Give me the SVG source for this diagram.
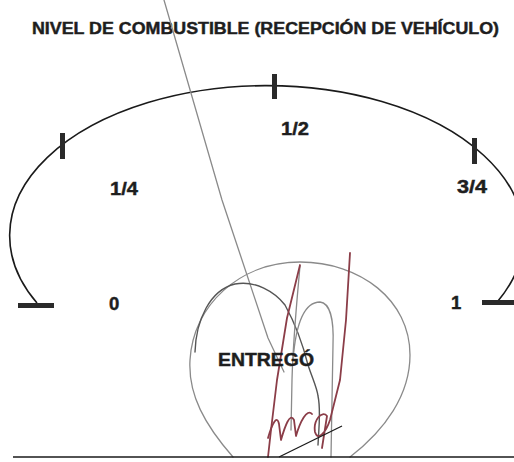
<svg xmlns="http://www.w3.org/2000/svg" width="514" height="462" viewBox="0 0 514 462">
<style>
.t{font-family:"Liberation Sans",Arial,sans-serif;font-weight:bold;fill:#1e1e1e;stroke:#1e1e1e;stroke-width:0.45}
.gauge{fill:none;stroke:#1a1a1a;stroke-width:1.6}
.mark{fill:#2a2a2a}
.pencil{fill:none;stroke:#8a8a8a;stroke-width:1.3;stroke-linecap:round;stroke-linejoin:round}
.dark{fill:none;stroke:#555555;stroke-width:1.4;stroke-linecap:round;stroke-linejoin:round}
.ink{fill:none;stroke:#8b3d48;stroke-width:1.8;stroke-linecap:round;stroke-linejoin:round}
</style>
<rect width="514" height="462" fill="#ffffff"/>
<text id="title" class="t" x="32" y="34" font-size="16" textLength="467" lengthAdjust="spacingAndGlyphs">NIVEL DE COMBUSTIBLE (RECEPCIÓN DE VEHÍCULO)</text>
<g id="gauge">
<path class="gauge" d="M37 303 A257 150 0 1 1 498 301"/>
<rect class="mark" x="18" y="303" width="36" height="5"/>
<rect class="mark" x="482" y="300" width="32" height="5"/>
<rect class="mark" x="60" y="133" width="5" height="26"/>
<rect class="mark" x="272" y="74" width="5" height="25"/>
<rect class="mark" x="472" y="138" width="5" height="26"/>
</g>
<g id="labels">
<text class="t" x="110" y="195" font-size="18.5" textLength="28" lengthAdjust="spacingAndGlyphs">1/4</text>
<text class="t" x="281" y="135" font-size="18.5" textLength="28" lengthAdjust="spacingAndGlyphs">1/2</text>
<text class="t" x="457" y="193" font-size="18.5" textLength="30" lengthAdjust="spacingAndGlyphs">3/4</text>
<text class="t" x="109" y="310" font-size="18.5">0</text>
<text class="t" x="451" y="309" font-size="18.5">1</text>
</g>
<g id="signature">
<path class="pencil" d="M164 0 L222 200 L268 338 L284 372"/>
<path class="pencil" d="M233 457 C205 425 188 395 190 360 C193 305 240 262 300 262 C360 262 410 300 410 355 C410 395 385 430 350 457"/>
<path class="dark" d="M195 352 C196 320 210 290 235 284 C255 280 275 292 285 305 C296 325 303 345 308 365 C313 380 317 388 318 396 C321 410 319 425 318 445"/>
<path class="pencil" d="M293 360 C296 322 305 302 320 302 C330 303 334 320 333 345 L332 400 L331 457"/>
<path class="pencil" d="M300 266 C297 300 293 340 292 380 L291 430"/>
<path class="ink" d="M300 265 L287 318 L277 380 L271 430 L268 457"/>
<path class="ink" d="M350 253 L346 320 L340 380 L330 420 C326 432 318 442 315 432 C313 420 322 410 327 416 L322 448"/>
<path class="ink" d="M268 438 C272 424 277 414 279 424 L281 440 C285 426 290 412 294 420 L296 436 C300 422 307 408 312 414"/>
<path fill="none" stroke="#1a1a1a" stroke-width="1.3" d="M279 457 L342 426"/>
</g>
<text id="entrego" class="t" x="218" y="366" font-size="18" textLength="96" lengthAdjust="spacingAndGlyphs">ENTREGÓ</text>
<line x1="13" y1="457" x2="514" y2="457" stroke="#1a1a1a" stroke-width="1.6"/>
</svg>
